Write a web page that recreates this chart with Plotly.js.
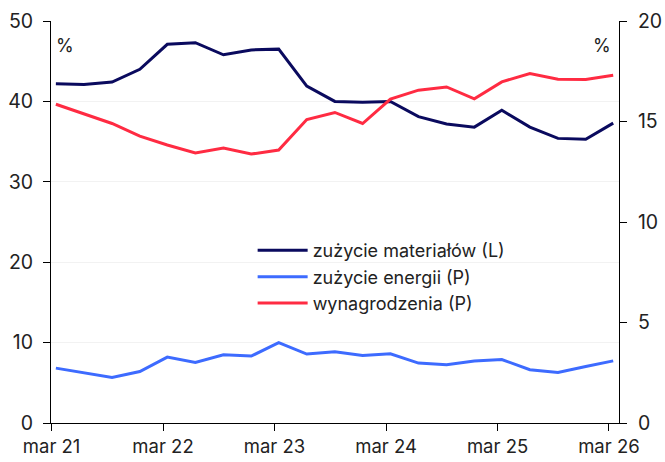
<!DOCTYPE html>
<html>
<head>
<meta charset="utf-8">
<script src="https://cdn.plot.ly/plotly-3.0.1.min.js"></script>
<style>html,body{margin:0;padding:0;background:#fff}#chart{width:665px;height:462px}</style>
</head>
<body>
<div id="chart"></div>
<script>
const dates = ['2021-03-15','2021-06-15','2021-09-15','2021-12-15','2022-03-15','2022-06-15','2022-09-15','2022-12-15','2023-03-15','2023-06-15','2023-09-15','2023-12-15','2024-03-15','2024-06-15','2024-09-15','2024-12-15','2025-03-15','2025-06-15','2025-09-15','2025-12-15','2026-03-15'];
const materialy = [42.2,42.1,42.4,44.0,47.1,47.3,45.8,46.4,46.5,41.9,40.0,39.9,40.0,38.1,37.2,36.8,38.9,36.8,35.4,35.3,37.3];
const energia = [2.73,2.50,2.27,2.56,3.28,3.01,3.39,3.33,4.00,3.43,3.55,3.36,3.44,2.98,2.90,3.08,3.16,2.65,2.51,2.81,3.09];
const wynagrodzenia = [15.86,15.38,14.90,14.27,13.83,13.44,13.68,13.38,13.58,15.10,15.45,14.90,16.11,16.56,16.72,16.13,16.97,17.39,17.10,17.09,17.30];
const tickVals = ['2021-03-01','2022-03-01','2023-03-01','2024-03-01','2025-03-01','2026-03-01'];
const tickText = ['mar 21','mar 22','mar 23','mar 24','mar 25','mar 26'];
const names = ['zużycie materiałów (L)','zużycie energii (P)','wynagrodzenia (P)'];

const FONT = 'Inter, "Open Sans", sans-serif';
const traces = [
  {x: dates, y: materialy, name: names[0], type: 'scatter', mode: 'lines', yaxis: 'y', line: {color: '#0a0a5e', width: 3}},
  {x: dates, y: energia, name: names[1], type: 'scatter', mode: 'lines', yaxis: 'y2', line: {color: '#3d6bff', width: 3}},
  {x: dates, y: wynagrodzenia, name: names[2], type: 'scatter', mode: 'lines', yaxis: 'y2', line: {color: '#ff2b42', width: 3}}
];
const layout = {
  width: 665, height: 462,
  margin: {l: 51, r: 46, t: 21, b: 39},
  paper_bgcolor: '#fff', plot_bgcolor: '#fff',
  font: {family: FONT, size: 19, color: '#222'},
  showlegend: true,
  legend: {x: 0.355, y: 0.475, xanchor: 'left', yanchor: 'top', bgcolor: 'rgba(0,0,0,0)', font: {size: 18, color: '#222'}, tracegroupgap: 0, itemwidth: 50},
  xaxis: {type: 'date', range: ['2021-02-27','2026-04-03'], tickvals: tickVals, ticktext: tickText,
          showline: true, linecolor: '#000', linewidth: 1, ticks: 'outside', ticklen: 7, tickcolor: '#000',
          showgrid: false, zeroline: false, tickfont: {size: 18.5}},
  yaxis: {range: [0, 50], dtick: 10, showline: true, linecolor: '#000', linewidth: 1, ticks: 'outside', ticklen: 7, tickcolor: '#000',
          showgrid: true, gridcolor: '#f2f2f2', zeroline: false, tickfont: {size: 19.5}, ticklabelstandoff: 6},
  yaxis2: {range: [0, 20], dtick: 5, overlaying: 'y', side: 'right', showline: true, linecolor: '#000', linewidth: 1, ticks: 'outside', ticklen: 7, tickcolor: '#000',
          showgrid: false, zeroline: false, tickfont: {size: 19.5}, ticklabelstandoff: 7},
  annotations: [
    {xref: 'paper', yref: 'paper', x: 0.025, y: 0.94, xanchor: 'center', yanchor: 'middle', text: '%', showarrow: false, font: {size: 18, color: '#222'}},
    {xref: 'paper', yref: 'paper', x: 0.970, y: 0.94, xanchor: 'center', yanchor: 'middle', text: '%', showarrow: false, font: {size: 18, color: '#222'}}
  ]
};
Plotly.newPlot('chart', traces, layout, {displayModeBar: false, staticPlot: true});
</script>
</body>
</html>
